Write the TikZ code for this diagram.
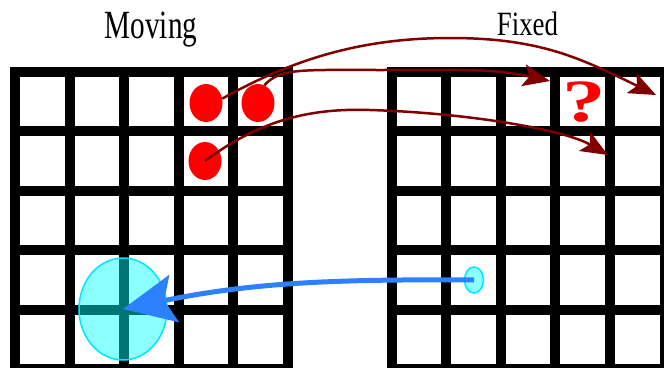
\documentclass[tikz,border=0pt]{standalone}
\usepackage{fontspec}
\setmainfont{Liberation Serif}
\usetikzlibrary{shapes.geometric,arrows.meta}
\definecolor{arrowred}{RGB}{128,0,0}
\definecolor{arrowblue}{RGB}{45,128,255}
\definecolor{regionfill}{RGB}{0,255,255}
\definecolor{regionline}{RGB}{0,230,255}
\definecolor{dotred}{RGB}{255,0,0}

\begin{document}
\begin{tikzpicture}[x=1pt,y=-1pt,
    gridline/.style={line width=10pt},
    dot/.style={ellipse,fill=dotred,minimum width=33pt,minimum height=38pt,inner sep=0pt},
    region/.style={ellipse,draw=regionline,line width=1.5pt,fill=regionfill,fill opacity=0.45,inner sep=0pt},
    redarrow/.style={arrowred,line width=2.5pt,-{Stealth[length=27pt,width=22pt,inset=6pt]}},
    bluearrow/.style={arrowblue,line width=5pt,-{Stealth[length=52pt,width=48pt,inset=10pt]}}]
  \useasboundingbox (0,0) rectangle (664,367);
  % the two grids
  \foreach \gx in {15,391.5} {
    \foreach \i in {0,...,5} {
      \draw[gridline] (\gx+54.6*\i,66.5) -- (\gx+54.6*\i,380);
      \draw[gridline] (\gx-5,71.5+59.5*\i) -- (\gx+278,71.5+59.5*\i);
    }
  }
  \node[font=\fontsize{40}{40}\selectfont,xscale=0.73,anchor=base] (moving) at (151,38.3) {Moving};
  \node[font=\fontsize{34}{34}\selectfont,xscale=0.79,anchor=base] (fixed) at (527.5,35) {Fixed};
  % regions
  \node[region,minimum width=88pt,minimum height=102pt] (b) at (123,309) {};
  \node[region,minimum width=19pt,minimum height=26pt] (s) at (474,280) {};
  \node[dot] (m1) at (206,103) {};
  \node[dot] (m2) at (258,103) {};
  \node[dot] (m3) at (205,161) {};
  \node[font=\bfseries\fontsize{60}{60}\selectfont,text=dotred,xscale=1.45] (q) at (584,102) {?};
  \coordinate (f1) at (656,95);
  \coordinate (f2) at (550,81);
  \coordinate (f3) at (608,155);
  % mappings
  \draw[redarrow] (m1.15) .. controls (300,55) and (370,38) .. (450,38) .. controls (540,38) and (580,58) .. (f1);
  \draw[redarrow] (m2.70) .. controls (280,68) and (300,70) .. (380,70) .. controls (460,70) and (490,68) .. (f2);
  \draw[redarrow] (m3.center) .. controls (260,120) and (310,108) .. (370,110) .. controls (470,113) and (565,130) .. (f3);
  \draw[bluearrow] (s.center) .. controls (330,279) and (250,283) .. (b.center);
\end{tikzpicture}
\end{document}
